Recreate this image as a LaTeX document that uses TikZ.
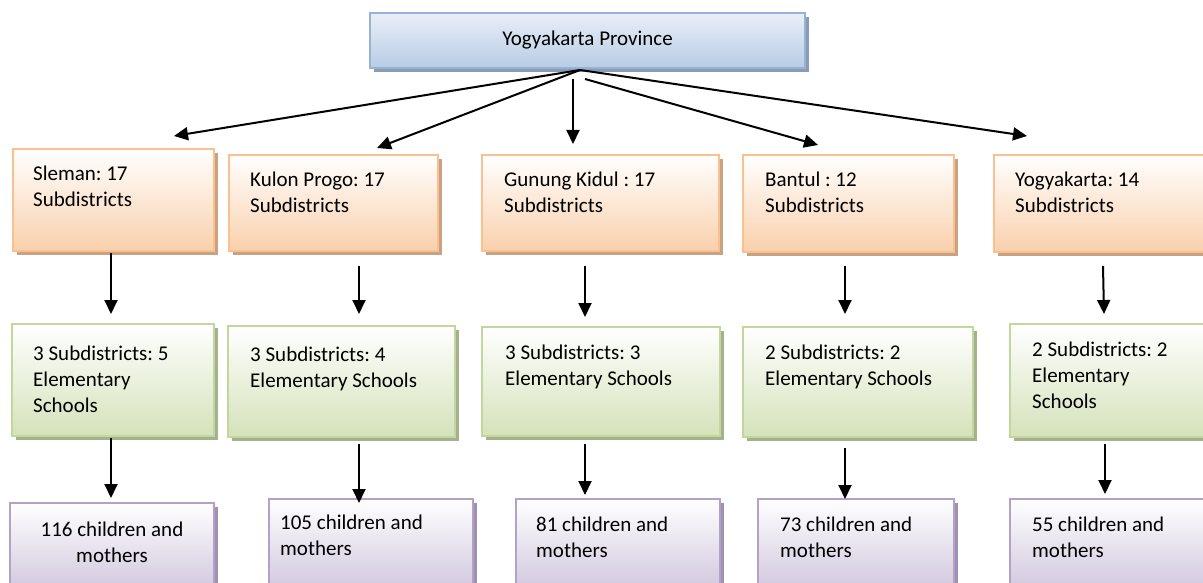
\documentclass[tikz,border=0pt]{standalone}
\usepackage{fontspec}
\setmainfont{Carlito}
\frenchspacing
\usetikzlibrary{arrows.meta,shadows,calc}
\definecolor{tbBorder}{HTML}{95B3D7}
\definecolor{tbTop}{HTML}{E9EFF8}
\definecolor{tbBot}{HTML}{B8CCE4}
\definecolor{tbShadow}{HTML}{8B9BB2}
\definecolor{obBorder}{HTML}{FAC08F}
\definecolor{obBot}{HTML}{F9D0AC}
\definecolor{obShadow}{HTML}{C9A282}
\definecolor{gbBorder}{HTML}{C3D69B}
\definecolor{gbBot}{HTML}{D5E2BA}
\definecolor{gbShadow}{HTML}{A5B08E}
\definecolor{pbBorder}{HTML}{B3A2C7}
\definecolor{pbBot}{HTML}{CBBFD9}
\definecolor{pbShadow}{HTML}{9E92B0}
\tikzset{
  boxbase/.style={draw, line width=2pt, inner sep=0pt, outer sep=0pt, anchor=north west},
  topbox/.style={boxbase, draw=tbBorder, top color=tbTop, bottom color=tbBot,
    drop shadow={shadow xshift=4pt, shadow yshift=-4pt, fill=tbShadow, opacity=1},
    font=\fontsize{21}{26}\selectfont},
  obox/.style={boxbase, draw=obBorder, top color=white, bottom color=obBot,
    drop shadow={shadow xshift=4pt, shadow yshift=-4pt, fill=obShadow, opacity=1}},
  gbox/.style={boxbase, draw=gbBorder, top color=white, bottom color=gbBot,
    drop shadow={shadow xshift=4pt, shadow yshift=-4pt, fill=gbShadow, opacity=1}},
  pbox/.style={boxbase, draw=pbBorder, top color=white, bottom color=pbBot,
    drop shadow={shadow xshift=4pt, shadow yshift=-4pt, fill=pbShadow, opacity=1}},
  txt/.style={inner sep=0pt, anchor=base west, align=left, font=\fontsize{21}{26}\selectfont},
  ctxt/.style={inner sep=0pt, anchor=base, align=center, font=\fontsize{21}{26}\selectfont},
  arr/.style={line width=2pt, -{Triangle[length=14pt,width=13pt]}}
}
\begin{document}
\begin{tikzpicture}[x=1pt,y=-1pt]
\clip (0,0) rectangle (1203,583);
\fill[white] (0,0) rectangle (1203,583);
% top
\node[topbox, minimum width=435pt, minimum height=55pt] (top) at (370,13) {Yogyakarta Province};
% orange row
\node[obox, minimum width=201pt, minimum height=102pt] (o1) at (13,149) {};
\node[obox, minimum width=209pt, minimum height=96pt] (o2) at (229,155) {};
\node[obox, minimum width=237pt, minimum height=96pt] (o3) at (482,155) {};
\node[obox, minimum width=211pt, minimum height=97pt] (o4) at (743,155) {};
\node[obox, minimum width=230pt, minimum height=97pt] (o5) at (994,155) {};
% green row
\node[gbox, minimum width=202pt, minimum height=112pt] (g1) at (12,324) {};
\node[gbox, minimum width=227pt, minimum height=111pt] (g2) at (228,326) {};
\node[gbox, minimum width=238pt, minimum height=109pt] (g3) at (482,327) {};
\node[gbox, minimum width=230pt, minimum height=110pt] (g4) at (743,327) {};
\node[gbox, minimum width=215pt, minimum height=113pt] (g5) at (1010,324) {};
% purple row
\node[pbox, minimum width=204pt, minimum height=100pt] (p1) at (10,503) {};
\node[pbox, minimum width=204pt, minimum height=104pt] (p2) at (269,499) {};
\node[pbox, minimum width=204pt, minimum height=104pt] (p3) at (516,499) {};
\node[pbox, minimum width=196pt, minimum height=104pt] (p4) at (758,499) {};
\node[pbox, minimum width=215pt, minimum height=104pt] (p5) at (1010,499) {};
% texts (anchor = baseline of the last line)
\node[txt] (to1) at ($(o1.north west)+(20,58)$) {Sleman: 17\\Subdistricts};
\node[txt] (to2) at ($(o2.north west)+(21,57)$) {Kulon Progo: 17\\Subdistricts};
\node[txt] (to3) at ($(o3.north west)+(22,58)$) {Gunung Kidul : 17\\Subdistricts};
\node[txt] (to4) at ($(o4.north west)+(22,58)$) {Bantul : 12\\Subdistricts};
\node[txt] (to5) at ($(o5.north west)+(21,58)$) {Yogyakarta: 14\\Subdistricts};
\node[txt] (tg1) at ($(g1.north west)+(21,88)$) {3 Subdistricts: 5\\Elementary\\Schools};
\node[txt] (tg2) at ($(g2.north west)+(22,61)$) {3 Subdistricts: 4\\Elementary Schools};
\node[txt] (tg3) at ($(g3.north west)+(23,58)$) {3 Subdistricts: 3\\Elementary Schools};
\node[txt] (tg4) at ($(g4.north west)+(22,58)$) {2 Subdistricts: 2\\Elementary Schools};
\node[txt] (tg5) at ($(g5.north west)+(22,84)$) {2 Subdistricts: 2\\Elementary\\Schools};
\node[ctxt] (tp1) at ($(p1.north)+(0,59)$) {116 children and\\mothers};
\node[txt] (tp2) at ($(p2.north west)+(11,56)$) {105 children and\\mothers};
\node[txt] (tp3) at ($(p3.north west)+(20,58)$) {81 children and\\mothers};
\node[txt] (tp4) at ($(p4.north west)+(22,58)$) {73 children and\\mothers};
\node[txt] (tp5) at ($(p5.north west)+(22,58)$) {55 children and\\mothers};
% connectors from top
\coordinate (hub) at ($(top.south)+(-7.5,2)$);
\draw[arr] (hub) -- ($(o1.north)+(60.5,-13)$);
\draw[arr] (hub) -- ($(o2.north)+(43.5,-7)$);
\draw[arr] ($(top.south)+(-14.5,11)$) -- ($(o3.north)+(-27.5,-11)$);
\draw[arr] ($(top.south)+(-2.5,11)$) -- ($(o4.north)+(-30.5,-10)$);
\draw[arr] (hub) -- ($(o5.north)+(-82,-19)$);
% orange -> green
\draw[arr] ($(o1.south)+(-2.5,2)$) -- ($(g1.north)+(-2,-10)$);
\draw[arr] ($(o2.south)+(25.5,15)$) -- ($(g2.north)+(17.5,-12)$);
\draw[arr] ($(o3.south)+(-15.5,15)$) -- ($(g3.north)+(-16,-10)$);
\draw[arr] ($(o4.south)+(-3.5,14)$) -- ($(g4.north)+(-13,-13)$);
\draw[arr] ($(o5.south)+(-6,14)$) -- ($(g5.north)+(-13.5,-10)$);
% green -> purple
\draw[arr] ($(g1.south)+(-2,2)$) -- ($(p1.north)+(-1,-5)$);
\draw[arr] ($(g2.south)+(17.5,7)$) -- ($(p2.north)+(-12,4)$);
\draw[arr] ($(g3.south)+(-16,8)$) -- ($(p3.north)+(-33,-4)$);
\draw[arr] ($(g4.south)+(-13,11)$) -- ($(p4.north)+(-11,0)$);
\draw[arr] ($(g5.south)+(-12.5,7)$) -- ($(p5.north)+(-12.5,-5)$);
\end{tikzpicture}
\end{document}
